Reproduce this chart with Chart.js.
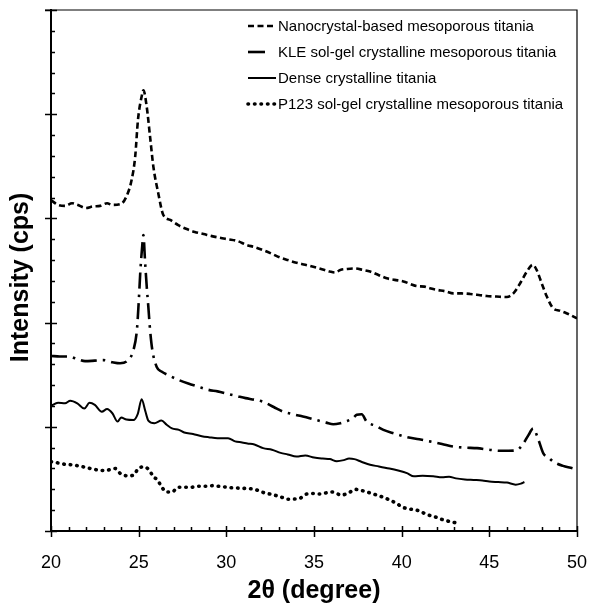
<!DOCTYPE html>
<html>
<head>
<meta charset="utf-8">
<script src="https://cdn.jsdelivr.net/npm/chart.js@4.4.1/dist/chart.umd.min.js"></script>
<style>
html, body { margin: 0; padding: 0; background: #fff; }
#wrap { width: 590px; height: 607px; }
</style>
</head>
<body>
<div id="wrap"><canvas id="xrd" width="590" height="607"></canvas></div>
<script>
// series names (legend order)
const seriesNames = [
    'Nanocrystal-based mesoporous titania',
    'KLE sol-gel crystalline mesoporous titania',
    'Dense crystalline titania',
    'P123 sol-gel crystalline mesoporous titania'
];

// x tick labels
const xTicks = [20, 25, 30, 35, 40, 45, 50];

// Nanocrystal-based (dashed)
const nanoX = [20.0, 20.4, 20.8, 21.2, 21.5, 22.0, 22.4, 22.8, 23.2, 23.5, 24.0, 24.3, 24.6, 24.8, 24.96, 25.17, 25.27, 25.46, 25.65, 25.84,
    26.12, 26.4, 26.8, 27.26, 27.7, 28.2, 28.7, 29.17, 29.6, 30.1, 30.6, 31.16, 31.6, 32.1, 32.6, 33.06, 33.5, 34.0, 34.5, 34.96,
    35.5, 35.9, 36.2, 36.5, 36.9, 37.34, 37.8, 38.2, 38.7, 39.15, 39.6, 40.1, 40.5, 40.86, 41.3, 41.6, 42.0, 42.5, 42.95, 43.4,
    43.9, 44.4, 44.85, 45.4, 46.0, 46.37, 46.75, 47.14, 47.48, 47.7, 47.99, 48.28, 48.65, 49.0, 49.4, 50.0];
const nanoY = [63.5, 62.6, 62.4, 62.9, 62.6, 62.0, 62.3, 62.4, 62.9, 62.6, 62.8, 64.2, 67.4, 71.8, 78.9, 83.4, 84.6, 81.4, 75.7, 69.9,
    64.8, 60.7, 59.7, 58.7, 58.0, 57.4, 57.0, 56.6, 56.3, 56.0, 55.7, 54.9, 54.5, 53.9, 53.2, 52.5, 52.0, 51.5, 51.1, 50.7,
    50.2, 49.8, 49.6, 50.1, 50.3, 50.4, 50.1, 49.8, 49.1, 48.5, 48.2, 47.9, 47.4, 47.0, 46.9, 46.6, 46.3, 46.0, 45.6, 45.6,
    45.5, 45.3, 45.1, 45.0, 44.9, 45.6, 47.5, 49.8, 51.1, 50.1, 47.5, 45.0, 42.7, 42.3, 41.8, 40.8];

// KLE sol-gel (dash-dot)
const kleX = [20.0, 20.5, 21.0, 21.5, 21.94, 22.5, 22.98, 23.5, 23.94, 24.4, 24.7, 24.9, 25.0, 25.1, 25.2, 25.27, 25.36, 25.46, 25.55, 25.65,
    25.78, 26.03, 26.3, 26.7, 27.2, 27.83, 28.4, 28.97, 29.5, 30.1, 30.6, 31.1, 31.6, 32.1, 32.7, 33.25, 33.7, 34.2, 34.7, 35.25,
    35.7, 36.1, 36.5, 36.87, 37.2, 37.44, 37.72, 38.0, 38.5, 38.96, 39.6, 40.3, 41.0, 41.6, 42.3, 42.95, 43.6, 44.3, 45.0, 45.6,
    46.1, 46.56, 46.94, 47.23, 47.5, 47.8, 48.08, 48.4, 48.65, 49.2, 49.8, 50.0];
const kleY = [33.6, 33.5, 33.5, 33.0, 32.6, 32.7, 32.8, 32.4, 32.2, 32.8, 34.7, 38.6, 43.8, 50.1, 54.6, 56.8, 52.0, 46.9, 43.1, 38.6,
    34.7, 31.5, 30.6, 29.9, 29.1, 28.3, 27.7, 27.1, 26.8, 26.3, 25.9, 25.5, 25.2, 24.8, 23.8, 22.9, 22.5, 22.1, 21.7, 21.2,
    20.8, 20.5, 20.7, 21.1, 21.6, 22.3, 22.4, 21.0, 20.2, 19.4, 18.7, 18.0, 17.6, 17.2, 16.7, 16.2, 16.0, 15.9, 15.6, 15.4,
    15.4, 15.5, 16.8, 18.4, 19.7, 17.5, 14.9, 14.0, 13.3, 12.5, 12.0, 11.7];

// Dense (solid)
const denseX = [20.0, 20.4, 20.8, 21.1, 21.5, 21.9, 22.2, 22.5, 22.9, 23.2, 23.5, 23.8, 24.0, 24.3, 24.7, 24.95, 25.17, 25.38, 25.55, 25.9,
    26.3, 26.6, 26.9, 27.3, 27.6, 28.1, 28.6, 29.0, 29.5, 30.1, 30.5, 30.9, 31.2, 31.6, 32.1, 32.6, 33.1, 33.5, 34.0, 34.5,
    35.0, 35.5, 35.9, 36.3, 36.7, 37.0, 37.3, 37.7, 38.2, 38.7, 39.3, 39.8, 40.3, 40.7, 41.2, 41.8, 42.3, 42.7, 43.1, 43.6,
    44.1, 44.6, 45.0, 45.5, 46.0, 46.5, 46.8, 47.0];
const denseY = [24.0, 24.6, 24.5, 25.0, 24.5, 23.5, 24.6, 24.2, 22.9, 23.4, 22.6, 21.0, 21.8, 21.4, 21.3, 22.5, 25.3, 23.0, 21.2, 20.7,
    21.2, 20.4, 19.7, 19.4, 18.9, 18.6, 18.2, 18.0, 17.8, 17.8, 17.2, 17.0, 16.8, 16.6, 15.9, 15.6, 15.0, 14.7, 14.3, 14.5,
    14.1, 13.9, 13.8, 13.4, 13.6, 13.9, 13.8, 13.3, 12.7, 12.4, 12.0, 11.6, 11.1, 10.5, 10.6, 10.5, 10.3, 10.4, 10.1, 9.9,
    9.8, 9.7, 9.5, 9.4, 9.3, 8.9, 9.1, 9.4];

// P123 sol-gel (dotted)
const p123X = [20.0, 20.5, 20.8, 21.2, 21.56, 22.0, 22.5, 23.08, 23.65, 24.0, 24.4, 24.7, 24.98, 25.3, 25.6, 25.84, 26.08, 26.3, 26.6, 26.9,
    27.26, 27.6, 28.0, 28.4, 28.8, 29.2, 29.54, 30.3, 30.9, 31.6, 32.1, 32.6, 33.06, 33.5, 34.2, 34.58, 35.0, 35.34, 36.0, 36.58,
    37.06, 37.34, 37.8, 38.2, 38.58, 39.0, 39.34, 39.7, 40.1, 40.5, 40.86, 41.5, 42.0, 42.4, 43.05];
const p123Y = [13.3, 13.0, 12.8, 12.7, 12.5, 12.2, 11.8, 11.6, 12.0, 10.9, 10.6, 10.7, 12.0, 12.3, 11.7, 10.4, 9.8, 8.5, 7.5, 7.5,
    8.4, 8.4, 8.4, 8.6, 8.6, 8.7, 8.6, 8.3, 8.2, 8.0, 7.4, 7.0, 6.6, 6.1, 6.3, 7.1, 7.2, 7.1, 7.5, 6.9,
    7.5, 8.0, 7.7, 7.3, 6.9, 6.4, 5.9, 5.3, 4.5, 4.2, 4.0, 3.1, 2.6, 2.1, 1.6];

const FONT = '"Liberation Sans", Arial, sans-serif';

function toPoints(xs, ys) {
    return xs.map((x, i) => ({ x: x, y: ys[i] }));
}

function lineSet(label, xs, ys, width, dash, cap) {
    return {
        label: label,
        data: toPoints(xs, ys),
        borderColor: '#000',
        backgroundColor: '#000',
        borderWidth: width,
        borderDash: dash,
        borderCapStyle: cap,
        pointRadius: 0,
        fill: false,
        cubicInterpolationMode: 'monotone'
    };
}

// tick marks, frame and legend drawn on top of the chart area
const framePlugin = {
    id: 'frame',
    afterDraw(chart) {
        const ctx = chart.ctx;
        const area = chart.chartArea;
        const xs = chart.scales.x;
        const ys = chart.scales.y;
        ctx.save();
        ctx.strokeStyle = '#000';
        ctx.setLineDash([]);

        // top and right frame
        ctx.lineWidth = 1.2;
        ctx.beginPath();
        ctx.moveTo(area.left - 6, area.top);
        ctx.lineTo(area.right, area.top);
        ctx.lineTo(area.right, area.bottom);
        ctx.stroke();

        // x ticks: minor every 1 deg inside, major every 5 crossing
        ctx.lineWidth = 1.5;
        ctx.beginPath();
        for (let v = 20; v <= 50; v++) {
            const px = Math.round(xs.getPixelForValue(v)) + 0.5;
            if (v % 5 === 0) {
                ctx.moveTo(px, area.bottom - 5);
                ctx.lineTo(px, area.bottom + 6);
            } else {
                ctx.moveTo(px, area.bottom - 4);
                ctx.lineTo(px, area.bottom);
            }
        }
        // y ticks: minor every 4 inside, major every 20 crossing
        for (let v = 0; v <= 100; v += 4) {
            const py = Math.round(ys.getPixelForValue(v)) + 0.5;
            if (v % 20 === 0) {
                ctx.moveTo(area.left - 6, py);
                ctx.lineTo(area.left + 6, py);
            } else {
                ctx.moveTo(area.left, py);
                ctx.lineTo(area.left + 4, py);
            }
        }
        ctx.stroke();

        // legend
        const lx = 248, len = 28, rowY = [26, 52, 78, 104];
        ctx.font = '15px ' + FONT;
        ctx.fillStyle = '#000';
        ctx.textBaseline = 'middle';
        chart.data.datasets.forEach((ds, i) => {
            ctx.save();
            ctx.lineWidth = ds.borderWidth;
            // the dash-dot sample only shows its long dash in the key
            ctx.setLineDash(i === 1 ? [17, 30] : ds.borderDash);
            ctx.lineCap = ds.borderCapStyle;
            ctx.beginPath();
            ctx.moveTo(lx, rowY[i]);
            ctx.lineTo(lx + len, rowY[i]);
            ctx.stroke();
            ctx.restore();
            ctx.fillText(ds.label, lx + len + 2, rowY[i] + 1);
        });
        ctx.restore();
    }
};

new Chart(document.getElementById('xrd'), {
    type: 'line',
    data: {
        datasets: [
            lineSet(seriesNames[0], nanoX, nanoY, 2.6, [6, 3.5], 'butt'),
            lineSet(seriesNames[1], kleX, kleY, 2.6, [16, 6, 2.5, 6], 'butt'),
            lineSet(seriesNames[2], denseX, denseY, 2, [], 'butt'),
            lineSet(seriesNames[3], p123X, p123Y, 3.6, [0.5, 6], 'round')
        ]
    },
    options: {
        responsive: false,
        animation: false,
        devicePixelRatio: 1,
        layout: { padding: { top: 10, right: 13, left: 0, bottom: 0 } },
        plugins: {
            legend: { display: false },
            tooltip: { enabled: false }
        },
        scales: {
            x: {
                type: 'linear',
                min: 20,
                max: 50,
                afterBuildTicks: s => { s.ticks = xTicks.map(v => ({ value: v })); },
                ticks: { color: '#000', font: { family: FONT, size: 18 }, padding: 13, maxRotation: 0 },
                grid: { display: false },
                border: { display: true, color: '#000', width: 2 },
                title: { display: true, text: '2θ (degree)', color: '#000', font: { family: FONT, size: 25, weight: 'bold' }, padding: { top: 0, bottom: 1 } },
                afterFit: s => { s.height = 76; s.paddingLeft = 0; s.paddingRight = 0; }
            },
            y: {
                min: 0,
                max: 100,
                ticks: { display: false },
                grid: { display: false },
                border: { display: true, color: '#000', width: 2 },
                // trailing spaces nudge the rotated title down a little, as in the original
                title: { display: true, text: 'Intensity (cps)  ', color: '#000', font: { family: FONT, size: 25, weight: 'bold' }, padding: { top: 6, bottom: 0 } },
                afterFit: s => { s.width = 51; s.paddingTop = 0; s.paddingBottom = 0; }
            }
        }
    },
    plugins: [framePlugin]
});
</script>
</body>
</html>
